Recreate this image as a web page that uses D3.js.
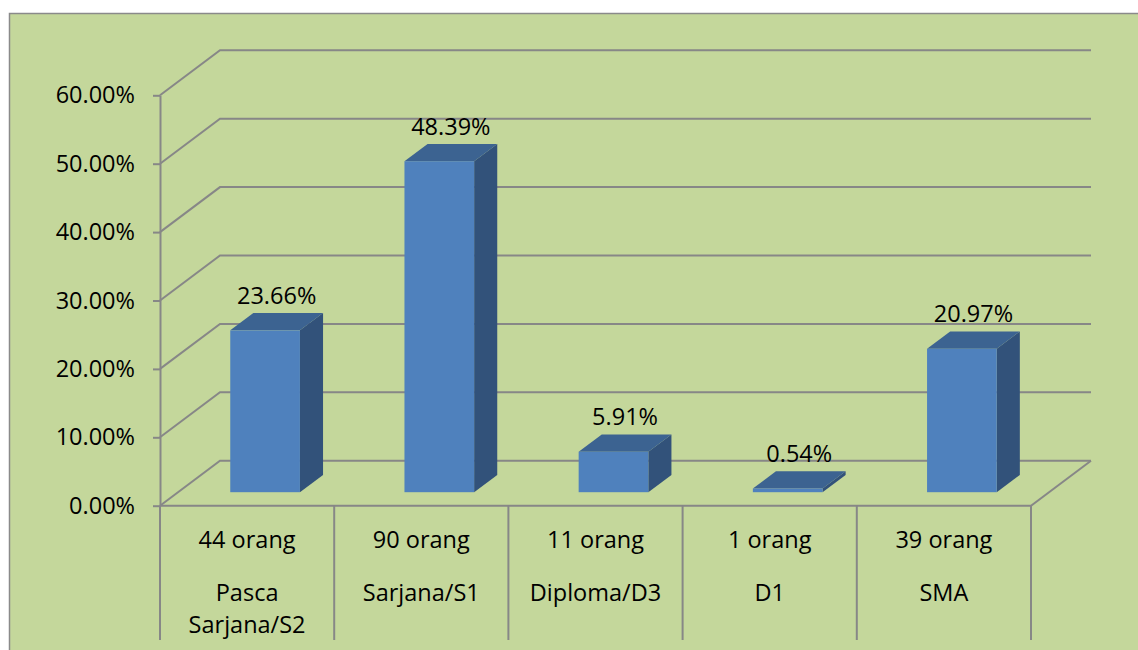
<!DOCTYPE html>
<html>
<head>
<meta charset="utf-8">
<script src="https://cdnjs.cloudflare.com/ajax/libs/d3/7.8.5/d3.min.js"></script>
<style>
	body { margin: 0; background: #fff; }
	text { font-family: "Open Sans", sans-serif; fill: #000; }
</style>
</head>
<body>
<div id="chart"></div>
<script>
// Data
const categories = ["Pasca Sarjana/S2", "Sarjana/S1", "Diploma/D3", "D1", "SMA"];
const categoryLines = [["Pasca", "Sarjana/S2"], ["Sarjana/S1"], ["Diploma/D3"], ["D1"], ["SMA"]];
const counts = ["44 orang", "90 orang", "11 orang", "1 orang", "39 orang"];
const percents = [0.2366, 0.4839, 0.0591, 0.0054, 0.2097];
const yTicks = [0, 0.1, 0.2, 0.3, 0.4, 0.5, 0.6];

const width = 1138;
const height = 650;
const plot = { left: 160, right: 1031, top: 95.3, bottom: 505.7 };
const fontSize = "23.5px";

// 3D depth offset of the back wall
const depthX = 60;
const depthY = -45;
const barFront = 0.3; // bar front face depth fraction
const barDepth = 0.385; // bar depth fraction

const gridColor = "#878787";

const svg = d3
	.select("#chart")
	.append("svg")
	.attr("width", width)
	.attr("height", height);

// Background panel
svg.append("rect")
	.attr("x", 9.5)
	.attr("y", 13.5)
	.attr("width", width)
	.attr("height", height)
	.attr("fill", "#c4d79b")
	.attr("stroke", "#8a8a8a")
	.attr("stroke-width", 1.5);

const x = d3.scaleBand().domain(categories).range([plot.left, plot.right]);
const y = d3.scaleLinear().domain([0, 0.6]).range([plot.bottom, plot.top]);

// Grid lines: side wall diagonal + back wall horizontal
svg.append("g")
	.selectAll("path")
	.data(yTicks)
	.enter()
	.append("path")
	.attr("d", (d) => {
		const p = d3.path();
		p.moveTo(plot.left, y(d));
		p.lineTo(plot.left + depthX, y(d) + depthY);
		p.lineTo(plot.right + depthX, y(d) + depthY);
		return p.toString();
	})
	.attr("fill", "none")
	.attr("stroke", gridColor)
	.attr("stroke-width", 2);

// Floor front edge and right diagonal
const floor = d3.path();
floor.moveTo(plot.left, y(0));
floor.lineTo(plot.right, y(0));
floor.lineTo(plot.right + depthX, y(0) + depthY);
svg.append("path")
	.attr("d", floor.toString())
	.attr("fill", "none")
	.attr("stroke", gridColor)
	.attr("stroke-width", 2);

// Y axis
const yAxis = d3.axisLeft(y)
	.tickValues(yTicks)
	.tickFormat(d3.format(".2%"))
	.tickSize(7)
	.tickSizeOuter(0)
	.tickPadding(18);

const yAxisG = svg.append("g")
	.attr("transform", "translate(" + plot.left + ",0)")
	.call(yAxis);
yAxisG.select(".domain").attr("stroke", gridColor).attr("stroke-width", 2);
yAxisG.selectAll(".tick line").attr("stroke", gridColor).attr("stroke-width", 2);
yAxisG.selectAll(".tick text")
	.style("font-family", "'Open Sans', sans-serif")
	.style("font-size", fontSize)
	.attr("fill", "#000");

// Table dividers below the axis
const dividers = categories.map((c) => x(c)).concat([plot.right]);
svg.append("g")
	.selectAll("line")
	.data(dividers)
	.enter()
	.append("line")
	.attr("x1", (d) => d)
	.attr("x2", (d) => d)
	.attr("y1", y(0))
	.attr("y2", 640)
	.attr("stroke", gridColor)
	.attr("stroke-width", 2);

// Bars
const barW = x.bandwidth() * 0.4;
const fx = barFront * depthX;
const fy = barFront * depthY;
const bx = barDepth * depthX;
const by = barDepth * depthY;

const bars = svg.append("g")
	.selectAll("g")
	.data(categories.map((c, i) => ({ cat: c, value: percents[i] })))
	.enter()
	.append("g");

const barLeft = (d) => x(d.cat) + x.bandwidth() / 2 - barW / 2 + fx;
const barBase = y(0) + fy;
const barTop = (d) => y(d.value) + fy;

// side face
bars.append("path")
	.attr("d", (d) => {
		const r = barLeft(d) + barW;
		return "M" + r + "," + barBase +
			"L" + r + "," + barTop(d) +
			"L" + (r + bx) + "," + (barTop(d) + by) +
			"L" + (r + bx) + "," + (barBase + by) + "Z";
	})
	.attr("fill", "#32527a");

// top face
bars.append("path")
	.attr("d", (d) => {
		const l = barLeft(d);
		return "M" + l + "," + barTop(d) +
			"L" + (l + barW) + "," + barTop(d) +
			"L" + (l + barW + bx) + "," + (barTop(d) + by) +
			"L" + (l + bx) + "," + (barTop(d) + by) + "Z";
	})
	.attr("fill", "#3c6391");

// front face
bars.append("rect")
	.attr("x", barLeft)
	.attr("y", barTop)
	.attr("width", barW)
	.attr("height", (d) => barBase - barTop(d))
	.attr("fill", "#4f81bd");

// value labels
bars.append("text")
	.attr("x", (d) => barLeft(d) + barW / 2 + bx / 2)
	.attr("y", (d) => barTop(d) + by - 9)
	.attr("text-anchor", "middle")
	.style("font-size", fontSize)
	.text((d) => d3.format(".2%")(d.value));

// Table text: counts row and category row
svg.append("g")
	.selectAll("text")
	.data(counts)
	.enter()
	.append("text")
	.attr("x", (d, i) => x(categories[i]) + x.bandwidth() / 2)
	.attr("y", 548)
	.attr("text-anchor", "middle")
	.style("font-size", fontSize)
	.text((d) => d);

const catText = svg.append("g")
	.selectAll("text")
	.data(categoryLines)
	.enter()
	.append("text")
	.attr("x", (d, i) => x(categories[i]) + x.bandwidth() / 2)
	.attr("y", 601)
	.attr("text-anchor", "middle")
	.style("font-size", fontSize);

catText.selectAll("tspan")
	.data((d) => d)
	.enter()
	.append("tspan")
	.attr("x", function () { return d3.select(this.parentNode).attr("x"); })
	.attr("dy", (d, i) => (i === 0 ? 0 : 32))
	.text((d) => d);
</script>
</body>
</html>
